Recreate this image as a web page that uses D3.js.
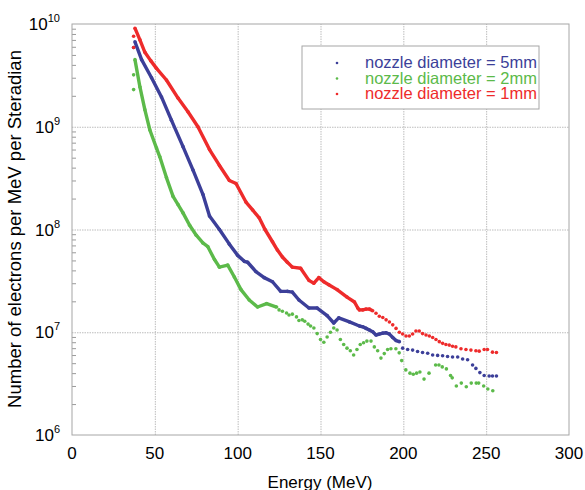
<!DOCTYPE html>
<html>
<head>
<meta charset="utf-8">
<script src="https://cdn.jsdelivr.net/npm/d3@7"></script>
<style>
body { margin: 0; background: #fff; }
svg { font-family: "Liberation Sans", Arial, sans-serif; }
</style>
</head>
<body>
<svg width="585" height="490"></svg>
<script>
var energyTicks = [0, 50, 100, 150, 200, 250, 300];
var decadeTicks = [1e6, 1e7, 1e8, 1e9, 1e10];
var seriesNames = ['nozzle diameter = 5mm', 'nozzle diameter = 2mm', 'nozzle diameter = 1mm'];

// [energy MeV, electrons / MeV / sr]
var nozzle5mm = [
    [37.2, 5.9e9],
    [38, 6.7e9], [42, 4.5e9], [48, 3.0e9], [54, 1.95e9], [60, 1.16e9], [67, 6.4e8], [73, 3.8e8],
    [79, 2.2e8], [83, 1.35e8], [89, 1.0e8], [95, 7.2e7], [100, 5.6e7], [104, 4.9e7], [106, 4.8e7],
    [111, 3.9e7], [116, 3.4e7], [121, 3.1e7], [126, 2.5e7], [130, 2.5e7], [133, 2.46e7], [137, 2.06e7],
    [143, 1.72e7], [148, 1.72e7], [154, 1.45e7], [158, 1.23e7], [161, 1.38e7], [167.5, 1.26e7],
    [173.5, 1.15e7], [175.5, 1.13e7], [177.5, 1.09e7], [179.5, 1.05e7], [181.5, 1.01e7], [183.5, 9.4e6],
    [185.5, 9.6e6], [187.6, 9.8e6], [189.6, 9.9e6], [191.6, 9.6e6], [193.6, 8.9e6], [195.6, 8.3e6],
    [197.6, 8.1e6], [199.6, 7.0e6], [202.6, 6.8e6], [205.6, 6.7e6], [208.6, 6.5e6], [211.6, 6.35e6],
    [214.7, 6.25e6], [217.7, 6.0e6], [220.7, 5.95e6], [223.7, 5.9e6], [226.7, 5.8e6], [229.7, 5.75e6],
    [232.8, 5.75e6], [235.8, 5.5e6], [238.8, 5.4e6], [241.8, 4.8e6], [243.8, 4.45e6], [246.2, 4.05e6],
    [248.8, 3.8e6], [251.8, 3.75e6], [253.8, 3.75e6], [256.2, 3.75e6]
];

var nozzle2mm = [
    [37.2, 3.2e9], [37.2, 2.3e9],
    [38, 4.5e9], [41, 2.44e9], [44, 1.46e9], [47, 9.3e8], [51, 6.2e8], [53, 5.1e8], [57, 3.2e8],
    [61, 2.1e8], [64, 1.75e8], [67, 1.45e8], [71, 1.1e8], [75, 8.8e7], [79, 7.4e7], [82, 6.8e7],
    [86, 5.1e7], [89, 4.3e7], [94, 4.5e7], [98, 3.45e7], [102, 2.6e7], [107, 2.06e7], [112, 1.76e7],
    [117.5, 1.9e7], [123.5, 1.76e7],
    [125, 1.65e7], [127, 1.6e7], [129.5, 1.54e7], [131, 1.47e7], [133, 1.5e7], [135.5, 1.41e7],
    [137, 1.3e7], [139, 1.32e7], [140.5, 1.28e7], [142.5, 1.2e7], [144, 1.15e7], [146, 1.1e7],
    [148, 9.7e6], [150, 8.5e6], [152, 8.0e6], [154, 9.0e6], [156, 1.0e7], [158, 1.1e7], [160, 1.05e7],
    [162, 8.5e6], [164, 7.6e6], [166, 7.0e6], [168, 6.6e6], [170, 6.0e6], [172, 6.8e6], [174, 7.6e6],
    [176, 7.9e6], [178, 8.2e6], [180.5, 8.2e6], [182.5, 7.2e6], [184.5, 6.6e6], [186.5, 5.6e6],
    [188.5, 6.2e6], [190.5, 6.8e6], [192.5, 6.9e6], [195.5, 6.9e6], [197.5, 6.3e6], [199, 5.3e6],
    [201.5, 4.3e6], [204, 4.0e6], [206, 3.9e6], [208, 4.0e6], [210, 4.1e6], [212.5, 3.5e6],
    [215.5, 4.0e6], [219.5, 4.8e6], [221.5, 4.8e6], [223.5, 4.6e6], [226, 4.4e6], [228.5, 3.8e6],
    [229.5, 3.6e6], [232, 3.0e6], [235, 3.2e6], [238, 2.95e6], [241, 3.2e6], [244, 3.2e6],
    [245.5, 3.2e6], [248.5, 3.0e6], [251, 2.8e6], [254, 2.7e6]
];

var nozzle1mm = [
    [37.2, 7.6e9], [37.2, 5.9e9],
    [38, 9.1e9], [41, 7.0e9], [44, 5.3e9], [47.5, 4.4e9], [51, 3.7e9], [57, 2.85e9], [64, 1.9e9],
    [70, 1.4e9], [76, 1.0e9], [83, 6.0e8], [89, 4.2e8], [95, 3.0e8], [99, 2.8e8], [105, 1.85e8],
    [109, 1.55e8], [113, 1.3e8], [116.5, 1.0e8], [121, 7.6e7], [124, 6.3e7], [127, 5.4e7], [130, 4.8e7],
    [133, 4.3e7], [138, 4.2e7], [143, 3.2e7], [146, 3.0e7], [149, 3.4e7], [152, 3.1e7], [155, 2.9e7],
    [160, 2.6e7], [166, 2.2e7], [170.5, 1.97e7], [172.5, 1.72e7],
    [173.5, 1.65e7], [175.5, 1.65e7], [177.5, 1.68e7], [179.5, 1.68e7], [181.5, 1.62e7], [183.5, 1.53e7],
    [185.5, 1.43e7], [187.6, 1.39e7], [189.6, 1.32e7], [191.6, 1.26e7], [193.6, 1.18e7], [195.6, 1.09e7],
    [197.6, 1.0e7], [199.6, 9.6e6], [201.6, 9.2e6], [203.6, 9.2e6], [205.6, 9.6e6], [207.6, 1.03e7],
    [209.6, 1.03e7], [211.6, 9.7e6], [213.7, 9.4e6], [215.7, 9.2e6], [217.7, 8.9e6], [219.7, 8.5e6],
    [221.7, 8.1e6], [223.7, 7.8e6], [225.7, 7.6e6], [227.7, 7.5e6], [229.7, 7.3e6], [231.7, 7.2e6],
    [234.8, 6.9e6], [237.8, 6.8e6], [240.8, 6.7e6], [243.8, 6.6e6], [245.8, 6.55e6], [248.8, 6.8e6],
    [250.8, 6.8e6], [253.8, 6.4e6], [256.2, 6.35e6]
];

var svg = d3.select('svg');

var x = d3.scaleLinear().domain([0, 300]).range([72, 569]);
var y = d3.scaleLog().domain([1e6, 1e10]).range([435, 24]);

// grid lines
svg.append('g')
    .attr('class', 'grid')
    .attr('transform', 'translate(0,435)')
    .call(d3.axisBottom(x).tickValues(energyTicks.slice(1, -1)).tickSize(-411).tickFormat(''))
    .call(function(g){ g.select('.domain').remove(); });

svg.append('g')
    .attr('class', 'grid')
    .attr('transform', 'translate(72,0)')
    .call(d3.axisLeft(y).tickValues(decadeTicks.slice(1, -1)).tickSize(-497).tickFormat(''))
    .call(function(g){ g.select('.domain').remove(); });

svg.selectAll('.grid line')
    .attr('stroke', '#bdbdbd')
    .attr('stroke-dasharray', '1.5,1');

// minor ticks inside the left edge
var minor = y.ticks().filter(function(v){ return decadeTicks.indexOf(v) < 0; });
svg.append('g')
    .attr('transform', 'translate(72,0)')
    .call(d3.axisRight(y).tickValues(minor).tickSize(4).tickFormat(''))
    .call(function(g){ g.select('.domain').remove(); })
    .selectAll('line').attr('stroke', '#9a9a9a');

svg.append('rect')
    .attr('x', 72).attr('y', 24)
    .attr('width', 497).attr('height', 411)
    .attr('fill', 'none')
    .attr('stroke', '#a6a6a6');

// tick labels
svg.selectAll('.xlab')
    .data(energyTicks)
    .enter()
    .append('text')
    .attr('class', 'xlab')
    .attr('x', function(d){ return x(d); })
    .attr('y', 459)
    .attr('text-anchor', 'middle')
    .style('font-size', '17px')
    .text(function(d){ return d; });

var ylab = svg.selectAll('.ylab')
    .data(decadeTicks)
    .enter()
    .append('text')
    .attr('class', 'ylab')
    .attr('x', 60)
    .attr('y', function(d){ return y(d) + 6; })
    .attr('text-anchor', 'end')
    .style('font-size', '17px');
ylab.append('tspan').text('10');
ylab.append('tspan')
    .attr('dy', -8)
    .style('font-size', '11px')
    .text(function(d){ return Math.round(Math.log10(d)); });

svg.append('text')
    .attr('transform', 'translate(21,229) rotate(-90)')
    .attr('text-anchor', 'middle')
    .style('font-size', '18.5px')
    .text('Number of electrons per MeV per Steradian');

svg.append('text')
    .attr('x', 320).attr('y', 488)
    .attr('text-anchor', 'middle')
    .style('font-size', '17px')
    .text('Energy (MeV)');

// series
var series = [
    { data: nozzle2mm, color: '#5cba4a', from: 37.9, to: 124 },
    { data: nozzle5mm, color: '#3c3f99', from: 37.9, to: 198 },
    { data: nozzle1mm, color: '#ee2b2b', from: 37.9, to: 182 }
];

var line = d3.line()
    .x(function(d){ return x(d[0]); })
    .y(function(d){ return y(d[1]); });

series.forEach(function(s){
    svg.append('path')
        .datum(s.data.filter(function(d){ return d[0] >= s.from && d[0] <= s.to; }))
        .attr('d', line)
        .attr('fill', 'none')
        .attr('stroke', s.color)
        .attr('stroke-width', 3.4)
        .attr('stroke-linejoin', 'round');

    svg.append('g')
        .selectAll('circle')
        .data(s.data)
        .enter()
        .append('circle')
        .attr('cx', function(d){ return x(d[0]); })
        .attr('cy', function(d){ return y(d[1]); })
        .attr('r', 1.8)
        .attr('fill', s.color);
});

// legend
var legendColors = ['#3c3f99', '#5cba4a', '#ee2b2b'];
svg.append('rect')
    .attr('x', 302).attr('y', 46)
    .attr('width', 237).attr('height', 63)
    .attr('fill', '#fff')
    .attr('stroke', '#a6a6a6');

var legend = svg.selectAll('.leg')
    .data(seriesNames)
    .enter()
    .append('g')
    .attr('class', 'leg')
    .attr('transform', function(d, i){ return 'translate(0,' + (i * 15.5) + ')'; });

legend.append('circle')
    .attr('cx', 337).attr('cy', 63)
    .attr('r', 1.3)
    .attr('fill', function(d, i){ return legendColors[i]; });

legend.append('text')
    .attr('x', 365).attr('y', 68)
    .style('font-size', '16.5px')
    .attr('fill', function(d, i){ return legendColors[i]; })
    .text(function(d){ return d; });
</script>
</body>
</html>
